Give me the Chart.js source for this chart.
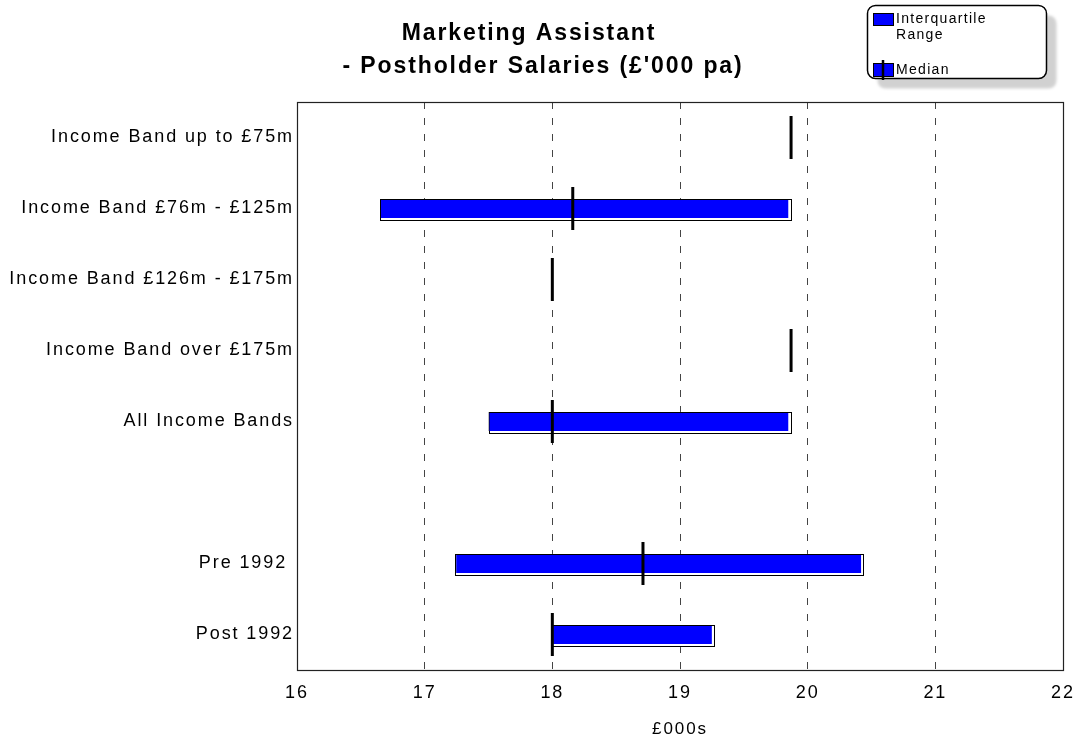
<!DOCTYPE html>
<html>
<head>
<meta charset="utf-8">
<script src="https://cdn.jsdelivr.net/npm/chart.js@4/dist/chart.umd.min.js"></script>
<style>
    body { margin: 0; background: #fff; }
    canvas { display: block; }
</style>
</head>
<body>
<canvas id="salaryChart" width="1081" height="745"></canvas>
<script>
const categories = [
    "Income Band up to £75m",
    "Income Band £76m - £125m",
    "Income Band £126m - £175m",
    "Income Band over £175m",
    "All Income Bands",
    "",
    "Pre 1992 ",
    "Post 1992"
];
const lowerQuartile = [null, 16.65, null, null, 17.5, null, 17.24, 18.0];
const upperQuartile = [null, 19.85, null, null, 19.85, null, 20.42, 19.25];
const medians = [19.87, 18.16, 18.0, 19.87, 18.0, null, 18.71, 18.0];
const xTicks = [16, 17, 18, 19, 20, 21, 22];
const titleLines = ["Marketing Assistant", "- Postholder Salaries (£'000 pa)"];

const FONT = "Arial, 'Liberation Sans', sans-serif";

// floating bars: [lower quartile, upper quartile]
const ranges = categories.map((c, i) =>
    lowerQuartile[i] == null ? null : [lowerQuartile[i], upperQuartile[i]]);

// wider character spacing for all text drawn by the chart
const spacing = {
    id: "spacing",
    beforeUpdate(chart) { chart.ctx.letterSpacing = "1.9px"; },
    beforeDraw(chart) { chart.ctx.letterSpacing = "1.9px"; }
};

// two-line heading above the plot
const heading = {
    id: "heading",
    afterDraw(chart) {
        const ctx = chart.ctx;
        ctx.save();
        ctx.letterSpacing = "1.9px";
        ctx.fillStyle = "#000";
        ctx.font = "bold 23px " + FONT;
        ctx.textAlign = "center";
        ctx.textBaseline = "middle";
        ctx.fillText(titleLines[0], 529, 34);
        ctx.fillText(titleLines[1], 543, 67);
        ctx.restore();
    }
};

// white outlined shadow behind each range bar
const barShadow = {
    id: "barShadow",
    beforeDatasetDraw(chart, args) {
        if (args.meta.type !== "bar") return;
        const values = chart.data.datasets[args.index].data;
        const ctx = chart.ctx;
        ctx.save();
        args.meta.data.forEach((bar, i) => {
            if (values[i] == null) return;
            const p = bar.getProps(["x", "y", "base", "height"], true);
            const left = Math.min(p.x, p.base);
            const right = Math.max(p.x, p.base);
            const top = p.y - p.height / 2;
            ctx.fillStyle = "#fff";
            ctx.strokeStyle = "#000";
            ctx.lineWidth = 1;
            ctx.fillRect(left, top, right - left + 3, p.height + 3);
            ctx.strokeRect(Math.round(left) + 0.5, Math.round(top) + 0.5,
                Math.round(right - left + 2), Math.round(p.height + 2));
        });
        ctx.restore();
    }
};

// box round the plot area
const frame = {
    id: "frame",
    afterDatasetsDraw(chart) {
        const { left, top, right, bottom } = chart.chartArea;
        const ctx = chart.ctx;
        ctx.save();
        ctx.strokeStyle = "#222";
        ctx.lineWidth = 1.2;
        ctx.strokeRect(Math.round(left) + 0.5, Math.round(top) + 0.5,
            Math.round(right - left), Math.round(bottom - top));
        ctx.restore();
    }
};

// legend box in the top right corner
const keyBox = {
    id: "keyBox",
    afterDraw(chart) {
        const ctx = chart.ctx;
        ctx.save();
        ctx.letterSpacing = "1.3px";
        ctx.shadowColor = "rgba(0,0,0,0.18)";
        ctx.shadowOffsetX = 10;
        ctx.shadowOffsetY = 10;
        ctx.shadowBlur = 3;
        ctx.fillStyle = "#fff";
        ctx.beginPath();
        ctx.roundRect(867.5, 5.5, 179, 73, 8);
        ctx.fill();
        ctx.shadowColor = "transparent";
        ctx.strokeStyle = "#000";
        ctx.lineWidth = 1.5;
        ctx.stroke();

        ctx.lineWidth = 1;
        ctx.fillStyle = "#0000ff";
        ctx.fillRect(873, 13, 20, 12);
        ctx.strokeRect(873.5, 13.5, 20, 12);
        ctx.fillRect(873, 63, 20, 13);
        ctx.strokeRect(873.5, 63.5, 20, 13);
        ctx.lineWidth = 2.5;
        ctx.beginPath();
        ctx.moveTo(883, 60);
        ctx.lineTo(883, 80);
        ctx.stroke();

        ctx.fillStyle = "#000";
        ctx.font = "14px " + FONT;
        ctx.textBaseline = "middle";
        ctx.fillText("Interquartile", 896, 19);
        ctx.fillText("Range", 896, 35);
        ctx.fillText("Median", 896, 70);
        ctx.restore();
    }
};

new Chart(document.getElementById("salaryChart"), {
    type: "bar",
    data: {
        labels: categories,
        datasets: [
            {
                type: "line",
                label: "Median",
                data: medians,
                indexAxis: "y",
                showLine: false,
                pointStyle: "line",
                pointRotation: 90,
                pointRadius: 21.5,
                pointHoverRadius: 21.5,
                pointBorderWidth: 3,
                pointBorderColor: "#000",
                pointBackgroundColor: "#000",
                order: 0
            },
            {
                label: "Interquartile Range",
                data: ranges,
                backgroundColor: "#0000ff",
                borderColor: "#000",
                borderWidth: { top: 1, left: 1, right: 0, bottom: 0 },
                borderSkipped: false,
                barPercentage: 0.27,
                categoryPercentage: 1,
                order: 1
            }
        ]
    },
    options: {
        indexAxis: "y",
        responsive: false,
        animation: false,
        layout: {
            autoPadding: false,
            padding: { left: 0, right: 18, top: 102, bottom: 0 }
        },
        plugins: {
            legend: { display: false },
            tooltip: { enabled: false },
            title: { display: false }
        },
        scales: {
            x: {
                min: 16,
                max: 22,
                afterFit(scale) {
                    scale.height = 75;
                    scale.paddingLeft = 0;
                    scale.paddingRight = 0;
                },
                afterBuildTicks(scale) { scale.ticks = xTicks.map(v => ({ value: v })); },
                ticks: { color: "#000", font: { family: FONT, size: 18 }, padding: 12 },
                grid: { color: "#444", lineWidth: 1, drawTicks: false },
                border: { display: false, dash: [7, 9] },
                title: {
                    display: true,
                    text: "£000s",
                    color: "#000",
                    font: { family: FONT, size: 17 },
                    padding: { top: 5, bottom: 5 }
                }
            },
            y: {
                afterFit(scale) {
                    scale.width = 297;
                    scale.paddingTop = 0;
                    scale.paddingBottom = 0;
                },
                ticks: { color: "#000", font: { family: FONT, size: 18 }, padding: 3 },
                grid: { display: false, drawTicks: false },
                border: { display: false }
            }
        }
    },
    plugins: [spacing, barShadow, frame, heading, keyBox]
});
</script>
</body>
</html>
